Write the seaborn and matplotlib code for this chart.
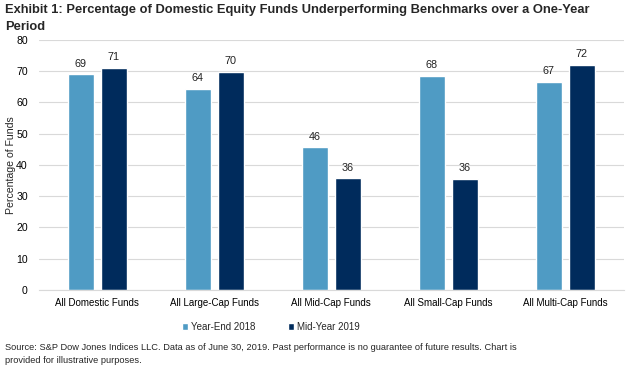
import matplotlib
matplotlib.use("Agg")
import matplotlib.pyplot as plt
import seaborn as sns
import pandas as pd

CATEGORIES = ["All Domestic Funds", "All Large-Cap Funds", "All Mid-Cap Funds",
              "All Small-Cap Funds", "All Multi-Cap Funds"]
YEAR_END_2018 = [69.0, 64.3, 45.6, 68.5, 66.6]
MID_YEAR_2019 = [71.1, 69.8, 35.7, 35.6, 72.0]
SERIES = ["Year-End 2018", "Mid-Year 2019"]
COLORS = ["#4F9BC4", "#002B5C"]

df = pd.DataFrame({
    "category": CATEGORIES * 2,
    "value": YEAR_END_2018 + MID_YEAR_2019,
    "series": [SERIES[0]] * 5 + [SERIES[1]] * 5,
})

sns.set_style("white")
plt.rcParams["font.family"] = ["Liberation Sans", "DejaVu Sans"]

fig = plt.figure(figsize=(6.27, 3.69), dpi=100)
ax = fig.add_axes([0.062, 0.214, 0.933, 0.678])

sns.barplot(data=df, x="category", y="value", hue="series", palette=COLORS,
            width=0.564, gap=0.21, ax=ax, saturation=1)

for c in ax.containers:
    ax.bar_label(c, fmt="%.0f", padding=4, fontsize=7.8, color="#222222")

ax.set_ylim(0, 80)
ax.set_xlim(-0.5, 4.5)
ax.set_yticks(range(0, 81, 10))
ax.yaxis.grid(True, color="#D9D9D9", linewidth=0.8)
ax.set_axisbelow(True)
for s in ["top", "right", "left"]:
    ax.spines[s].set_visible(False)
ax.spines["bottom"].set_color("#D9D9D9")
ax.tick_params(axis="y", labelsize=7.6, length=0, colors="#000000", pad=8)
ax.tick_params(axis="x", labelsize=7.0, length=0, colors="#000000", pad=6)
ax.set_xlabel("")
ax.set_ylabel("Percentage of Funds", fontsize=7.6, labelpad=0)

leg = fig.legend(*ax.get_legend_handles_labels(), loc="center left",
                 bbox_to_anchor=(0.29, 0.114), ncol=2,
                 frameon=False, fontsize=7.0, handlelength=0.6, handleheight=0.6,
                 columnspacing=3.4, handletextpad=0.3, borderaxespad=0, borderpad=0)
ax.get_legend().remove()

fig.text(0.008, 0.99, "Exhibit 1: Percentage of Domestic Equity Funds Underperforming Benchmarks over a One-Year\nPeriod",
         fontsize=9.3, fontweight="bold", va="top", ha="left", linespacing=1.6)
fig.text(0.008, 0.012, "Source: S&P Dow Jones Indices LLC. Data as of June 30, 2019. Past performance is no guarantee of future results. Chart is\nprovided for illustrative purposes.",
         fontsize=6.7, va="bottom", ha="left", linespacing=1.5)

fig.savefig("out.png", dpi=100)
